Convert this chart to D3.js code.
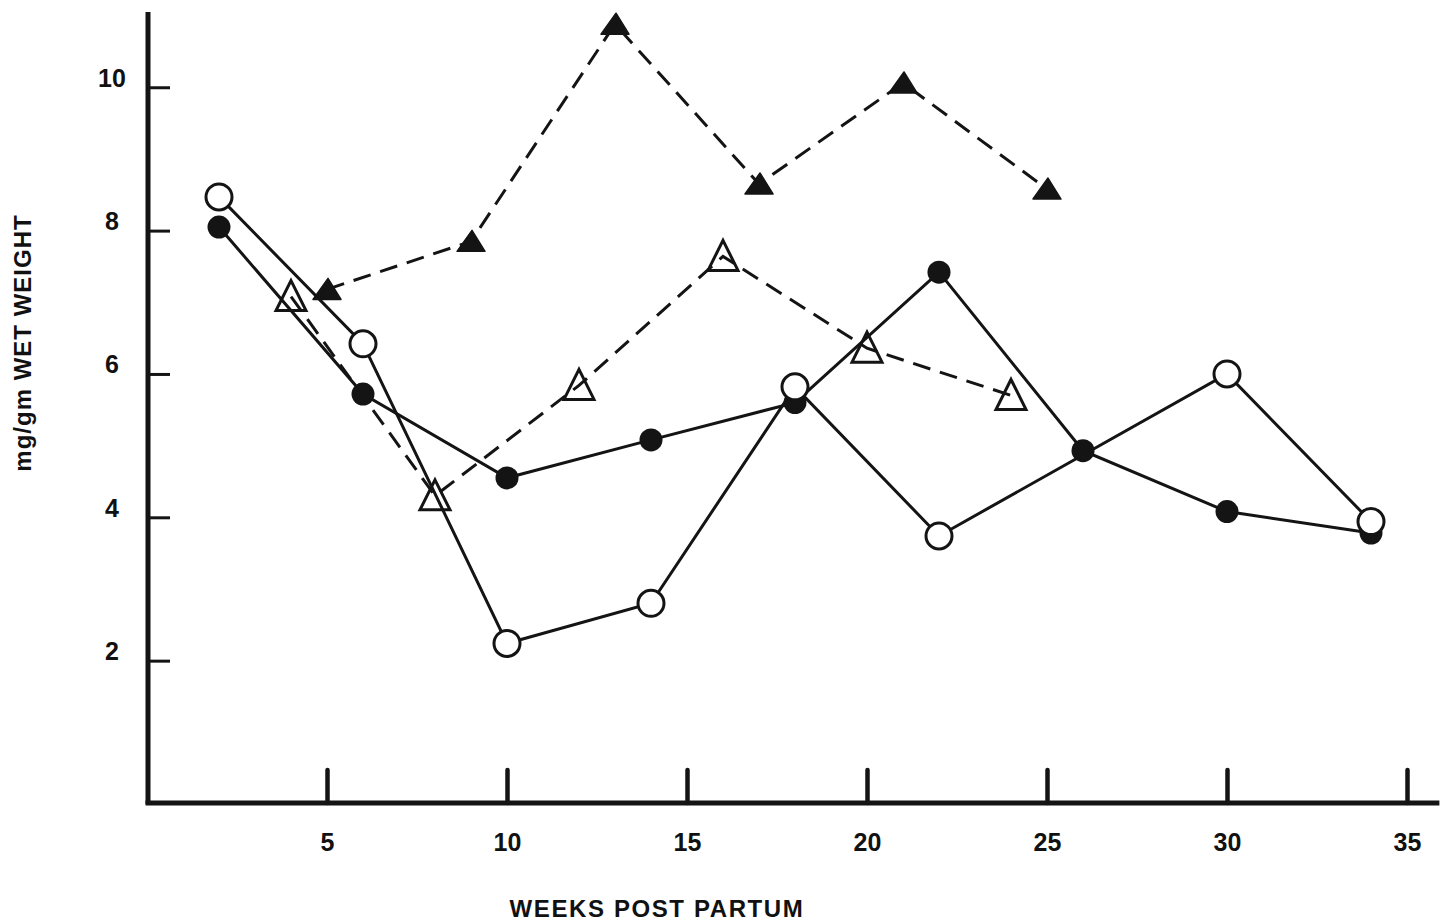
<!DOCTYPE html>
<html>
<head>
<meta charset="utf-8">
<script src="https://cdn.jsdelivr.net/npm/d3@7"></script>
<style>
  body { margin: 0; background: #fff; }
  text { font-family: "Liberation Sans", Arial, sans-serif; font-weight: bold; fill: #111; }
</style>
</head>
<body>
<div class="chart-holder"></div>
<script>
// Data (weeks post partum vs mg/gm wet weight)
const filledCircleWeeks = [2, 6, 10, 14, 18, 22, 26, 30, 34];
const filledCircleValues = [8.05, 5.72, 4.55, 5.08, 5.6, 7.42, 4.93, 4.08, 3.78];

const openCircleWeeks = [2, 6, 10, 14, 18, 22, 30, 34];
const openCircleValues = [8.47, 6.42, 2.24, 2.8, 5.82, 3.74, 6.0, 3.94];

const openTriangleWeeks = [4, 8, 12, 16, 20, 24];
const openTriangleValues = [7.08, 4.3, 5.84, 7.64, 6.36, 5.7];

const filledTriangleWeeks = [5, 9, 13, 17, 21, 25];
const filledTriangleValues = [7.18, 7.85, 10.88, 8.65, 10.06, 8.58];

const xTicks = [5, 10, 15, 20, 25, 30, 35];
const yTicks = [2, 4, 6, 8, 10];

const width = 1441;
const height = 922;

const svg = d3.select('.chart-holder').append('svg')
  .attr('width', width)
  .attr('height', height);

// Scales
const xScale = d3.scaleLinear()
  .domain([0, 36])
  .range([147, 1443]);

const yScale = d3.scaleLinear()
  .domain([0, 11.05])
  .range([804, 12]);

const ink = '#141414';

// Axes lines
svg.append('line')
  .attr('x1', 148).attr('x2', 148)
  .attr('y1', yScale(11.05)).attr('y2', yScale(0))
  .attr('stroke', ink).attr('stroke-width', 5);

svg.append('line')
  .attr('x1', 145.5).attr('x2', xScale(35.9))
  .attr('y1', yScale(0) - 1).attr('y2', yScale(0) - 1)
  .attr('stroke', ink).attr('stroke-width', 5);

// Y axis ticks (pointing inwards, labels on the left)
const yAxis = svg.append('g')
  .attr('transform', 'translate(148,0)')
  .call(d3.axisLeft(yScale).tickValues(yTicks).tickSize(-22).tickSizeOuter(0).tickPadding(0));
yAxis.select('.domain').remove();
yAxis.selectAll('line').attr('stroke', ink).attr('stroke-width', 3);
yAxis.selectAll('text')
  .attr('x', -36)
  .attr('dy', '-0.05em')
  .attr('text-anchor', 'middle')
  .style('font-size', '25px');

// X axis ticks (pointing upwards)
const xAxis = svg.append('g')
  .attr('transform', 'translate(0,' + (yScale(0) - 1) + ')')
  .call(d3.axisBottom(xScale).tickValues(xTicks).tickSize(-33).tickSizeOuter(0));
xAxis.select('.domain').remove();
xAxis.selectAll('line').attr('stroke', ink).attr('stroke-width', 4.5).attr('stroke-linecap', 'round');
xAxis.selectAll('text')
  .attr('y', 30)
  .attr('dy', '0.71em')
  .style('font-size', '25px');

// Axis titles
svg.append('text')
  .attr('x', 657)
  .attr('y', 917)
  .attr('text-anchor', 'middle')
  .style('font-size', '24px')
  .style('letter-spacing', '1.6px')
  .text('WEEKS POST PARTUM');

svg.append('text')
  .attr('transform', 'translate(31,343) rotate(-90)')
  .attr('text-anchor', 'middle')
  .style('font-size', '24px')
  .style('letter-spacing', '1px')
  .text('mg/gm WET WEIGHT');

// Line generator
const line = d3.line()
  .x(d => xScale(d[0]))
  .y(d => yScale(d[1]));

const zip = (xs, ys) => xs.map((x, i) => [x, ys[i]]);

const filledCircles = zip(filledCircleWeeks, filledCircleValues);
const openCircles = zip(openCircleWeeks, openCircleValues);
const openTriangles = zip(openTriangleWeeks, openTriangleValues);
const filledTriangles = zip(filledTriangleWeeks, filledTriangleValues);

// Dashed lines
svg.append('path')
  .datum(openTriangles)
  .attr('fill', 'none')
  .attr('stroke', ink)
  .attr('stroke-width', 3)
  .attr('stroke-dasharray', '18,10')
  .attr('d', line);

svg.append('path')
  .datum(filledTriangles)
  .attr('fill', 'none')
  .attr('stroke', ink)
  .attr('stroke-width', 3)
  .attr('stroke-dasharray', '18,10')
  .attr('d', line);

// Solid lines
svg.append('path')
  .datum(filledCircles)
  .attr('fill', 'none')
  .attr('stroke', ink)
  .attr('stroke-width', 3)
  .attr('d', line);

svg.append('path')
  .datum(openCircles)
  .attr('fill', 'none')
  .attr('stroke', ink)
  .attr('stroke-width', 3)
  .attr('d', line);

// Markers
svg.selectAll('.open-tri')
  .data(openTriangles)
  .enter().append('path')
  .attr('class', 'open-tri')
  .attr('transform', d => 'translate(' + xScale(d[0]) + ',' + yScale(d[1]) + ')')
  .attr('d', 'M0,-16 L15,14 L-15,14 Z')
  .attr('fill', 'none')
  .attr('stroke', ink)
  .attr('stroke-width', 3)
  .attr('stroke-linejoin', 'miter');

svg.selectAll('.filled-tri')
  .data(filledTriangles)
  .enter().append('path')
  .attr('class', 'filled-tri')
  .attr('transform', d => 'translate(' + xScale(d[0]) + ',' + yScale(d[1]) + ')')
  .attr('d', 'M1,-11 L14,10 L-14,10 Z')
  .attr('fill', ink)
  .attr('stroke', ink)
  .attr('stroke-width', 1.5)
  .attr('stroke-linejoin', 'round');

svg.selectAll('.filled-circ')
  .data(filledCircles)
  .enter().append('circle')
  .attr('class', 'filled-circ')
  .attr('cx', d => xScale(d[0]))
  .attr('cy', d => yScale(d[1]))
  .attr('r', 11.5)
  .attr('fill', ink);

svg.selectAll('.open-circ')
  .data(openCircles)
  .enter().append('circle')
  .attr('class', 'open-circ')
  .attr('cx', d => xScale(d[0]))
  .attr('cy', d => yScale(d[1]))
  .attr('r', 13)
  .attr('fill', '#fff')
  .attr('stroke', ink)
  .attr('stroke-width', 3);
</script>
</body>
</html>
